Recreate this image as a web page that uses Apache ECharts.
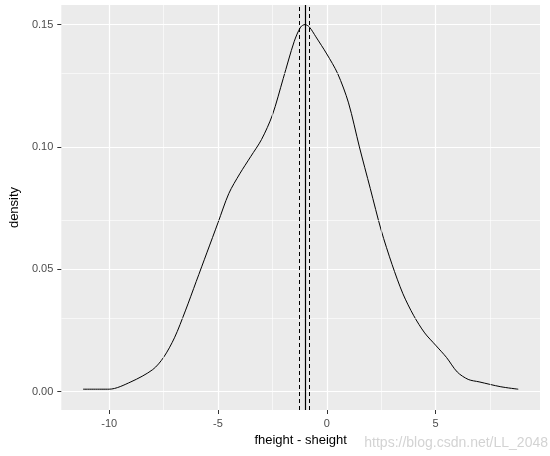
<!DOCTYPE html><html><head><meta charset="utf-8"><script src="https://cdn.jsdelivr.net/npm/echarts@6/dist/echarts.min.js"></script></head><body style="margin:0"><div id="c" style="width:550px;height:456px"></div><script>
const xs=[-11.2,-10,-9,-8,-7.5,-7,-6.5,-6,-5.5,-5,-4.5,-4,-3.5,-3,-2.5,-2,-1.5,-1.2,-1,-0.8,-0.5,0,0.5,1,1.5,2,2.5,3,3.5,4,4.5,5,5.5,6,6.5,7,8,8.8];
const dens=[0.001,0.001,0.004,0.009,0.014,0.022,0.033,0.045,0.057,0.069,0.081,0.089,0.096,0.103,0.113,0.128,0.143,0.149,0.150,0.149,0.145,0.138,0.130,0.118,0.100,0.083,0.066,0.052,0.040,0.031,0.024,0.019,0.014,0.008,0.005,0.004,0.002,0.001];
const xTicks=[-10,-5,0,5];
const yTicks=[0,0.05,0.10,0.15];
const xMinor=[-12.5,-7.5,-2.5,2.5,7.5];
const yMinor=[0.025,0.075,0.125];
const meanLine=-1.0, ciLines=[-1.25,-0.8];
const ch=echarts.init(document.getElementById('c'));
ch.setOption({animation:false,
grid:{left:40,right:10,top:5,bottom:46,backgroundColor:'#EBEBEB',show:true,borderWidth:0},
xAxis:{type:'value',min:-12.2,max:9.8,name:'fheight - sheight',nameLocation:'middle',nameGap:24,nameTextStyle:{color:'#000',fontSize:13,fontFamily:'Liberation Sans'},
 axisLine:{show:false,onZero:false},axisTick:{customValues:xTicks,lineStyle:{color:'#333'},length:4},
 axisLabel:{customValues:xTicks,color:'#4D4D4D',fontSize:11,fontFamily:'Liberation Sans'},
 splitLine:{lineStyle:{color:'#fff',width:1.2}}},
yAxis:{type:'value',min:-0.0075,max:0.158,name:'density',nameLocation:'middle',nameGap:30,nameTextStyle:{color:'#000',fontSize:13,fontFamily:'Liberation Sans'},
 axisLine:{show:false,onZero:false},axisTick:{show:true,customValues:yTicks,lineStyle:{color:'#333'},length:4},
 axisLabel:{customValues:yTicks,color:'#4D4D4D',fontSize:11,fontFamily:'Liberation Sans',formatter:v=>v.toFixed(2)},
 splitLine:{lineStyle:{color:'#fff',width:1.2}}},
graphic:[{type:'text',right:2,bottom:6,style:{text:'https://blog.csdn.net/LL_2048',fill:'rgba(200,200,200,0.8)',fontSize:14,fontFamily:'Liberation Sans'}}],
series:[
 {type:'line',data:[],z:1,markLine:{symbol:'none',silent:true,label:{show:false},lineStyle:{color:'#fff',type:'solid',width:0.6},
  data:[...xMinor.filter(v=>v>-12.2).map(v=>({xAxis:v})),...yMinor.map(v=>({yAxis:v}))]}},
 {type:'line',data:xs.map((x,i)=>[x,dens[i]]),smooth:0.3,symbol:'none',lineStyle:{color:'#000',width:1},z:3,
 markLine:{symbol:'none',silent:true,label:{show:false},data:[
  {xAxis:meanLine,lineStyle:{color:'#000',type:'solid',width:1.2}},
  ...ciLines.map(v=>({xAxis:v,lineStyle:{color:'#000',type:[4,3],width:1}}))]}}]});
</script></body></html>
